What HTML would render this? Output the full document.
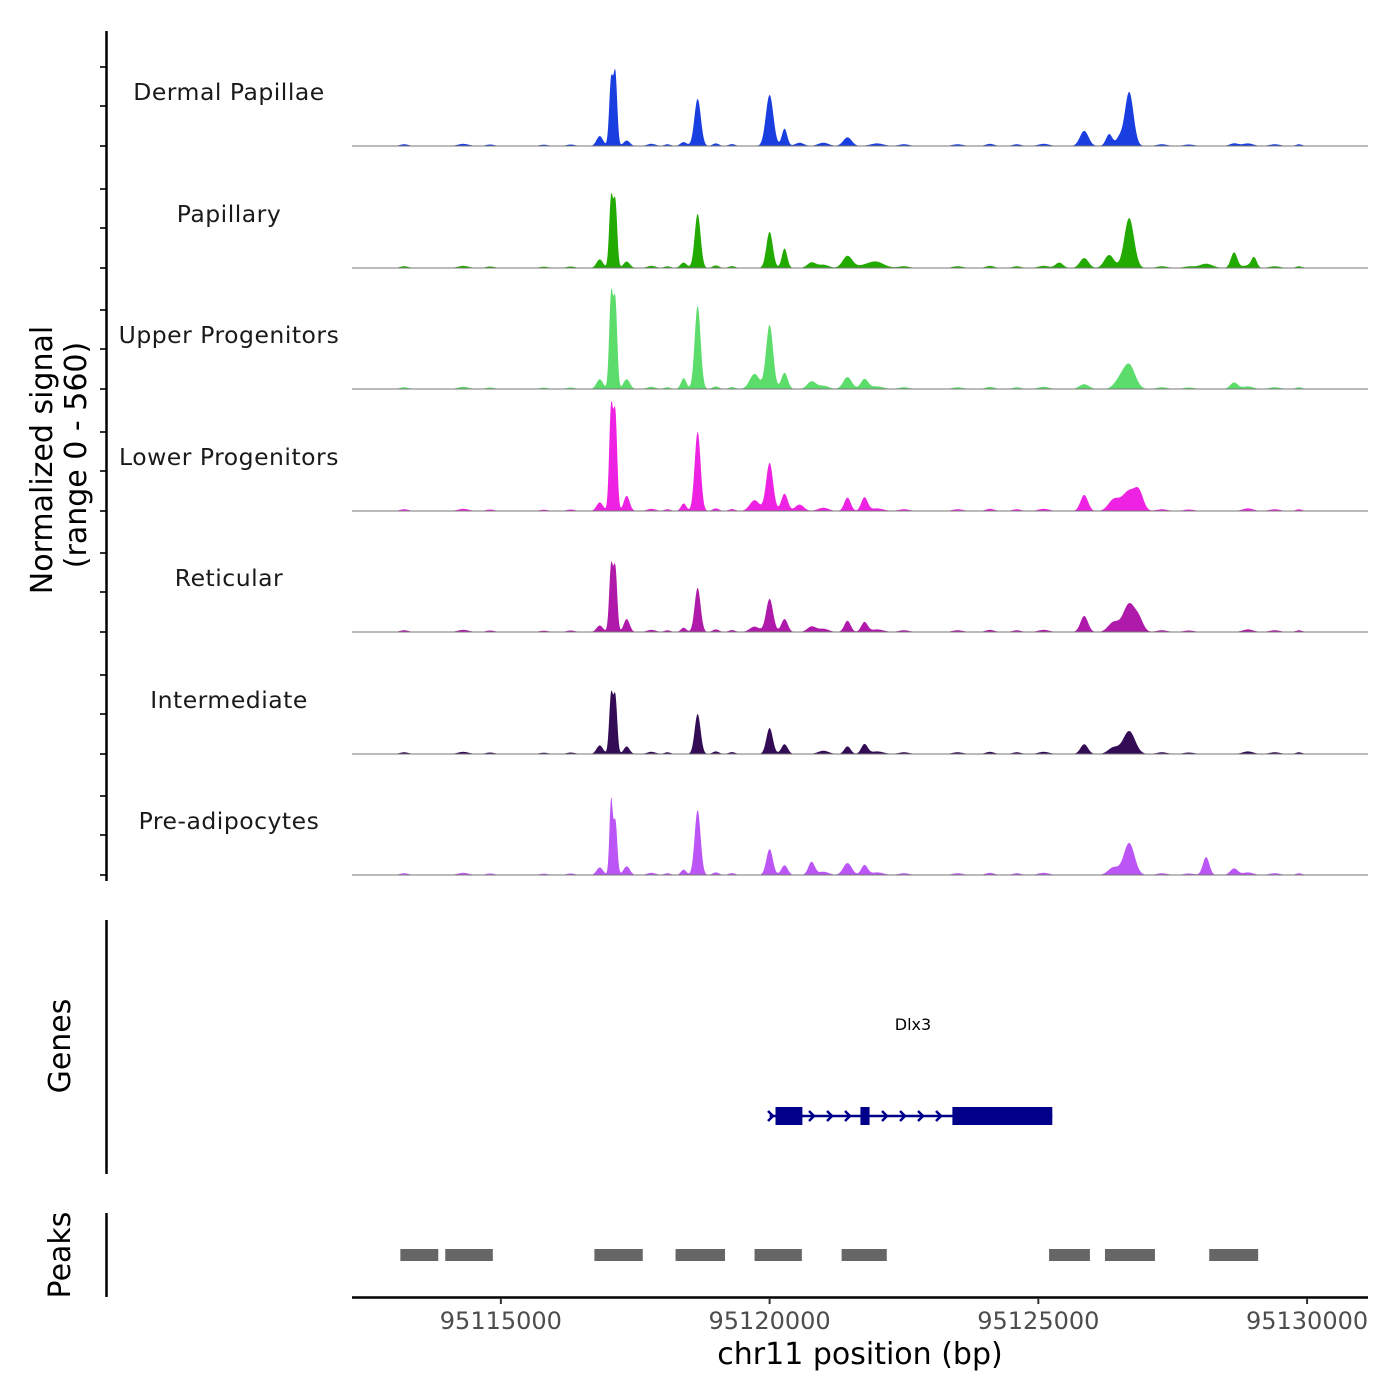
<!DOCTYPE html>
<html><head><meta charset="utf-8"><style>
html,body{margin:0;padding:0;background:#fff;}
svg{display:block;font-family:"DejaVu Sans","Liberation Sans",sans-serif;}
</style></head><body>
<svg id="chart" width="1400" height="1400" viewBox="0 0 1400 1400" xmlns="http://www.w3.org/2000/svg"></svg>
<script>
// ---- data ----
const trackNames = ["Dermal Papillae","Papillary","Upper Progenitors","Lower Progenitors","Reticular","Intermediate","Pre-adipocytes"];
const trackColors = ["#1a3fe0","#22aa00","#5cdc6a","#ee22e2","#b01aaa","#330c55","#bb55f5"];
// peaks: [position bp, signal, sigma bp]
const peaksDermal = [[95116840,46,60],[95117050,300,35],[95117130,330,35],[95117341,25,60],[95118400,18,60],[95118661,218,60],[95120000,236,70],[95120278,80,50],[95120557,15,80],[95121449,40,80],[95125854,70,80],[95126319,55,60],[95126505,35,60],[95126690,250,80],[95128642,12,80]];
const peaksPapillary = [[95116840,40,60],[95117050,320,35],[95117130,300,35],[95117341,30,60],[95118400,25,60],[95118661,250,55],[95120000,167,60],[95120278,90,50],[95120780,25,80],[95121449,55,90],[95121900,20,200],[95125390,25,70],[95125854,46,80],[95126319,60,90],[95126690,231,90],[95128122,20,120],[95128642,72,60],[95129014,45,50]];
const peaksUpper = [[95116840,45,60],[95117050,430,35],[95117130,400,35],[95117341,45,60],[95118401,50,50],[95118661,384,55],[95119721,70,90],[95120000,296,65],[95120278,75,60],[95120780,35,80],[95121449,55,80],[95121765,45,70],[95125854,22,90],[95126505,35,100],[95126690,111,110],[95128642,30,70]];
const peaksLower = [[95116840,40,60],[95117050,470,35],[95117130,440,35],[95117341,70,55],[95118401,35,50],[95118661,366,55],[95119721,50,90],[95120000,222,65],[95120278,80,60],[95120557,30,80],[95121449,62,60],[95121765,62,60],[95125854,74,70],[95126400,50,100],[95126690,93,130],[95126877,70,80]];
const peaksReticular = [[95116840,30,60],[95117050,300,35],[95117130,290,35],[95117341,60,55],[95118401,20,50],[95118661,204,55],[95119721,25,90],[95120000,153,65],[95120278,60,60],[95120780,25,80],[95121449,52,60],[95121765,45,60],[95125854,74,70],[95126400,45,100],[95126690,130,110],[95126877,50,80]];
const peaksIntermediate = [[95116840,40,60],[95117050,270,35],[95117130,260,35],[95117341,35,55],[95118661,185,55],[95120000,120,60],[95120278,45,60],[95121449,35,60],[95121765,45,60],[95125854,45,70],[95126400,30,100],[95126690,106,110]];
const peaksPreadipocytes = [[95116840,35,60],[95117050,340,30],[95117130,250,35],[95117341,40,60],[95118401,25,50],[95118661,300,55],[95120000,120,60],[95120278,45,60],[95120780,60,60],[95121449,55,80],[95121765,45,60],[95126400,35,100],[95126690,148,100],[95128122,83,60],[95128642,30,70]];
const trackPeaks = [peaksDermal,peaksPapillary,peaksUpper,peaksLower,peaksReticular,peaksIntermediate,peaksPreadipocytes];
// low background bumps shared: [bp, signal, sigma]
const backgroundBumps = [[95113200,8,80],[95114300,10,100],[95114800,7,80],[95115800,6,80],[95116300,7,80],[95117800,10,80],[95118100,8,60],[95119000,12,60],[95119300,9,60],[95121000,15,100],[95122000,12,120],[95122500,8,100],[95123500,8,100],[95124100,10,80],[95124600,8,80],[95125100,10,100],[95127300,8,100],[95127800,7,100],[95128900,12,100],[95129400,8,100],[95129850,8,60]];
const peakRegions = [[95113130,95113835],[95113965,95114850],[95116740,95117640],[95118250,95119170],[95119720,95120600],[95121340,95122180],[95125200,95125960],[95126240,95127170],[95128180,95129090]];
const geneName = "Dlx3";
const geneStart = 95120000, geneEnd = 95125260;
const exons = [[95120110,95120610],[95121690,95121860],[95123401,95125260]];
const xTicks = [95115000,95120000,95125000,95130000];
const yMax = 560;

// ---- scales ----
const X0 = 352, X1 = 1368, BP0 = 95112230, BP1 = 95131134;
const xs = bp => X0 + (bp - BP0) / (BP1 - BP0) * (X1 - X0);
const baselines = [146,268,389,511,632,754,875];
const trackH = 121;
const ys = (v, b) => b - v / yMax * trackH;

const svg = document.getElementById('chart');
const NS = 'http://www.w3.org/2000/svg';
function mk(tag, attrs, parent) {
  const e = document.createElementNS(NS, tag);
  for (const k in attrs) e.setAttribute(k, attrs[k]);
  (parent || svg).appendChild(e);
  return e;
}
function txt(s, attrs, parent) { const e = mk('text', attrs, parent); e.textContent = s; return e; }

// signal tracks
trackNames.forEach((name, i) => {
  const g = mk('g', {});
  
  
  const b = baselines[i];
  const pk = trackPeaks[i].concat(backgroundBumps);
  let d = 'M' + 398 + ',' + b;
  for (let px = 398; px <= 1322; px += 0.5) {
    const bp = BP0 + (px - X0) / (X1 - X0) * (BP1 - BP0);
    let v = 0;
    pk.forEach(p => { const z = (bp - p[0]) / p[2]; v += p[1] * Math.exp(-0.5 * z * z); });
    v = Math.min(v, yMax);
    d += 'L' + px.toFixed(1) + ',' + ys(v, b).toFixed(1);
  }
  d += 'L1322,' + b + 'Z';
  const area = mk('path', { d: d, fill: trackColors[i], stroke: 'none' }, g);
  
  
  const bl = mk('line', { x1: X0, x2: X1, y1: b, y2: b, stroke: '#777', 'stroke-width': 1 }, g);
  
  
  const lab = txt(name, { x: 229, y: b - 46, 'text-anchor': 'middle', 'font-size': 23.5, fill: '#1a1a1a', 'letter-spacing': '0.5' }, g);
  
  
  [0, 40, 79].forEach(o => {
    const t = mk('line', { x1: 100, x2: 106, y1: b - o, y2: b - o, stroke: '#333', 'stroke-width': 2 }, g);
    
    
  });
});
const ya = mk('line', { x1: 106.5, x2: 106.5, y1: 31, y2: 881, stroke: '#000', 'stroke-width': 2.5 });


const yt = txt('Normalized signal', { x: 0, y: 0, transform: 'translate(52,460) rotate(-90)', 'text-anchor': 'middle', 'font-size': 30 });


const yt2 = txt('(range 0 - 560)', { x: 0, y: 0, transform: 'translate(86,455) rotate(-90)', 'text-anchor': 'middle', 'font-size': 30 });



// genes panel
const ga = mk('line', { x1: 106.5, x2: 106.5, y1: 920, y2: 1174, stroke: '#000', 'stroke-width': 2.5 });


const gt = txt('Genes', { x: 0, y: 0, transform: 'translate(70,1046) rotate(-90)', 'text-anchor': 'middle', 'font-size': 30 });


const gl = txt(geneName, { x: 913, y: 1030, 'text-anchor': 'middle', 'font-size': 16 });


const gy = 1116;
const gline = mk('line', { x1: xs(geneStart), x2: xs(geneEnd), y1: gy, y2: gy, stroke: '#00008b', 'stroke-width': 2.5 });


[771, 812, 830, 848, 885, 903, 921, 939].forEach(cx => {
  const c = mk('path', { d: `M${cx-3},${gy-5}L${cx+2},${gy}L${cx-3},${gy+5}`, fill: 'none', stroke: '#00008b', 'stroke-width': 2.5 });
  
  
});
exons.forEach(e => {
  const r = mk('rect', { x: xs(e[0]), y: gy - 9, width: xs(e[1]) - xs(e[0]), height: 18, fill: '#00008b' });
  
  
});

// peaks panel
const pa = mk('line', { x1: 106.5, x2: 106.5, y1: 1213, y2: 1297, stroke: '#000', 'stroke-width': 2.5 });


const pt = txt('Peaks', { x: 0, y: 0, transform: 'translate(70,1255) rotate(-90)', 'text-anchor': 'middle', 'font-size': 30 });


peakRegions.forEach(p => {
  const r = mk('rect', { x: xs(p[0]), y: 1249, width: xs(p[1]) - xs(p[0]), height: 12, fill: '#666' });
  
  
});

// x axis
const xa = mk('line', { x1: X0, x2: X1, y1: 1297.5, y2: 1297.5, stroke: '#000', 'stroke-width': 2.5 });


xTicks.forEach(t => {
  const l = mk('line', { x1: xs(t), x2: xs(t), y1: 1298, y2: 1304, stroke: '#333', 'stroke-width': 2 });
  
  
  const lb = txt(String(t), { x: xs(t), y: 1329, 'text-anchor': 'middle', 'font-size': 24, fill: '#4d4d4d' });
  
  
});
const xt = txt('chr11 position (bp)', { x: 860, y: 1364, 'text-anchor': 'middle', 'font-size': 30 });


</script>
</body></html>
